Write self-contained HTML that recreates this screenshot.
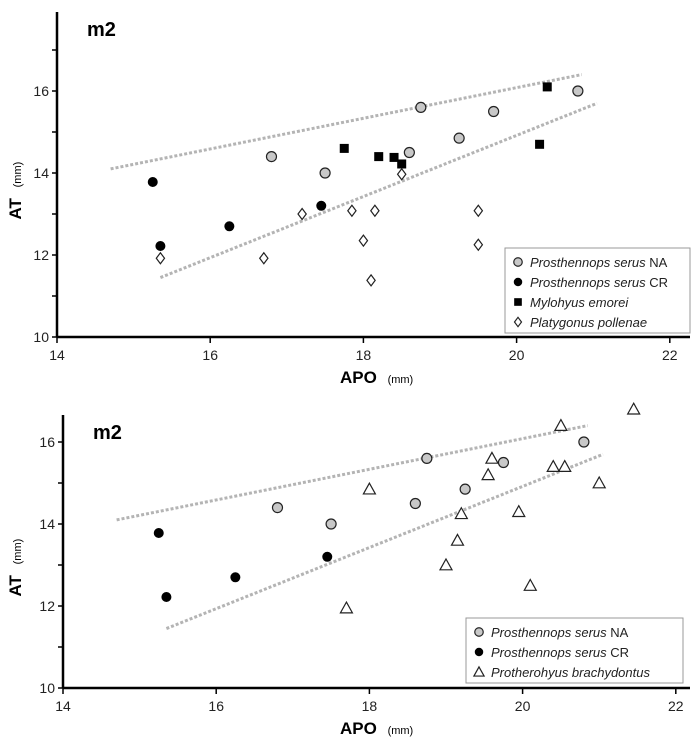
<!DOCTYPE html>
<html><head><meta charset="utf-8"><style>
body{margin:0;background:#fff;font-family:"Liberation Sans",sans-serif}
svg text{font-family:"Liberation Sans",sans-serif}
</style></head><body>
<svg id="s" width="700" height="748" viewBox="0 0 700 748"></svg>
<script>
// Top panel data
const naX=[16.8,17.5,18.6,18.75,19.25,19.7,20.8];
const naY=[14.4,14.0,14.5,15.6,14.85,15.5,16.0];
const crX=[15.25,15.35,16.25,17.45];
const crY=[13.78,12.22,12.7,13.2];
const myX=[17.75,18.2,18.4,18.5,20.3,20.4];
const myY=[14.6,14.4,14.38,14.22,14.7,16.1];
const plX=[15.35,16.7,17.2,17.85,18.15,18.0,18.1,18.5,19.5,19.5];
const plY=[11.92,11.92,13.0,13.08,13.08,12.35,11.38,13.97,13.08,12.25];
// Bottom panel data
const na2X=[16.8,17.5,18.6,18.75,19.25,19.75,20.8];
const na2Y=[14.4,14.0,14.5,15.6,14.85,15.5,16.0];
const prX=[17.7,18.0,19.0,19.15,19.2,19.55,19.6,19.95,20.1,20.4,20.5,20.55,21.0,21.45];
const prY=[11.95,14.85,13.0,13.6,14.25,15.2,15.6,14.3,12.5,15.4,16.4,15.4,15.0,16.8];
const upperLine=[[14.7,14.1],[20.85,16.4]];
const lowerLine=[[15.35,11.45],[21.05,15.7]];
const xTicks=[14,16,18,20,22];
const yTicks=[10,12,14,16];

const NS="http://www.w3.org/2000/svg";
const svg=document.getElementById('s');
function mk(t,a,p){const e=document.createElementNS(NS,t);for(const k in a)e.setAttribute(k,a[k]);(p||svg).appendChild(e);return e;}

function panel(o){
  const g=mk('g',{});
  
  
  const sx=v=>o.x0+(v-14)*o.kx, sy=v=>o.y0-(v-10)*o.ky;
  const ya=mk('line',{x1:o.x0,y1:o.yTop,x2:o.x0,y2:o.y0,stroke:'#000','stroke-width':2.5},g);
  
  const xa=mk('line',{x1:o.x0,y1:o.y0,x2:690,y2:o.y0,stroke:'#000','stroke-width':2.5},g);
  
  for(let v=10;v<=o.yMax;v++){mk('line',{x1:o.x0-5,x2:o.x0,y1:sy(v),y2:sy(v),stroke:'#000','stroke-width':1.5},g);}
  yTicks.forEach(v=>{const t=mk('text',{x:o.x0-8,y:sy(v)+5,'text-anchor':'end','font-size':14,fill:'#222'},g);t.textContent=v;
    });
  xTicks.forEach(v=>{mk('line',{x1:sx(v),x2:sx(v),y1:o.y0,y2:o.y0+6,stroke:'#000','stroke-width':1.5},g);
    const t=mk('text',{x:sx(v),y:o.y0+23,'text-anchor':'middle','font-size':14,fill:'#222'},g);t.textContent=v;
    });
  const tt=mk('text',{x:o.x0+30,y:o.yTop+24,'font-size':20,'font-weight':'bold'},g);tt.textContent='m2';
  
  const xl=mk('text',{x:340,y:o.y0+46,'font-size':17,'font-weight':'bold'},g);xl.innerHTML='APO <tspan font-size="11" font-weight="normal" dx="6">(mm)</tspan>';
  
  const cy=(o.yTop+o.y0)/2;
  const yl=mk('text',{x:0,y:0,'font-size':17,'font-weight':'bold',transform:`translate(21,${cy+45}) rotate(-90)`},g);yl.innerHTML='AT <tspan font-size="11" font-weight="normal" dx="6">(mm)</tspan>';
  
  [upperLine,lowerLine].forEach((L,i)=>{const l=mk('line',{x1:sx(L[0][0]),y1:sy(L[0][1]),x2:sx(L[1][0]),y2:sy(L[1][1]),stroke:'#b4b4b4','stroke-width':3,'stroke-dasharray':'3 2'},g);
    });
  o.series.forEach(s=>{s.xs.forEach((x,i)=>{const e=marker(s.type,sx(x),sy(s.ys[i]),g);
    });});
  const lg=mk('g',{},g);
  mk('rect',{x:o.lx,y:o.ly,width:o.lw,height:o.series.length*20+5,fill:'#fff',stroke:'#999','stroke-width':1},lg);
  o.series.forEach((s,i)=>{const yy=o.ly+14+i*20;marker(s.type,o.lx+13,yy,lg,0.85);
    const t=mk('text',{x:o.lx+25,y:yy+5,'font-size':13,fill:'#222'},lg);t.innerHTML=`<tspan font-style="italic">${s.label}</tspan> ${s.suffix||''}`;
    });
}
function marker(type,x,y,g,sc){sc=sc||1;
  if(type==='na')return mk('circle',{cx:x,cy:y,r:5*sc,fill:'#c8c8c8',stroke:'#222','stroke-width':1.2},g);
  if(type==='cr')return mk('circle',{cx:x,cy:y,r:5*sc,fill:'#000'},g);
  if(type==='my')return mk('rect',{x:x-4.5*sc,y:y-4.5*sc,width:9*sc,height:9*sc,fill:'#000'},g);
  if(type==='pl'){const r=5.5*sc;return mk('polygon',{points:`${x},${y-r} ${x+r*0.75},${y} ${x},${y+r} ${x-r*0.75},${y}`,fill:'#fff',stroke:'#222','stroke-width':1.2},g);}
  const r=6*sc;return mk('polygon',{points:`${x},${y-r} ${x+r},${y+r*0.8} ${x-r},${y+r*0.8}`,fill:'#fff',stroke:'#222','stroke-width':1.2},g);
}
panel({name:'top-chart',x0:57,kx:76.6,y0:337,ky:41,yTop:12,yMax:17,lx:505,ly:248,lw:185,
  series:[{type:'na',xs:naX,ys:naY,name:'serus-na',label:'Prosthennops serus',suffix:'NA'},
          {type:'cr',xs:crX,ys:crY,name:'serus-cr',label:'Prosthennops serus',suffix:'CR'},
          {type:'my',xs:myX,ys:myY,name:'mylohyus',label:'Mylohyus emorei'},
          {type:'pl',xs:plX,ys:plY,name:'platygonus',label:'Platygonus pollenae'}]});
panel({name:'bottom-chart',x0:63,kx:76.6,y0:688,ky:41,yTop:415,yMax:16,lx:466,ly:618,lw:217,
  series:[{type:'na',xs:na2X,ys:na2Y,name:'serus-na',label:'Prosthennops serus',suffix:'NA'},
          {type:'cr',xs:crX,ys:crY,name:'serus-cr',label:'Prosthennops serus',suffix:'CR'},
          {type:'tr',xs:prX,ys:prY,name:'protherohyus',label:'Protherohyus brachydontus'}]});
</script>
</body></html>
